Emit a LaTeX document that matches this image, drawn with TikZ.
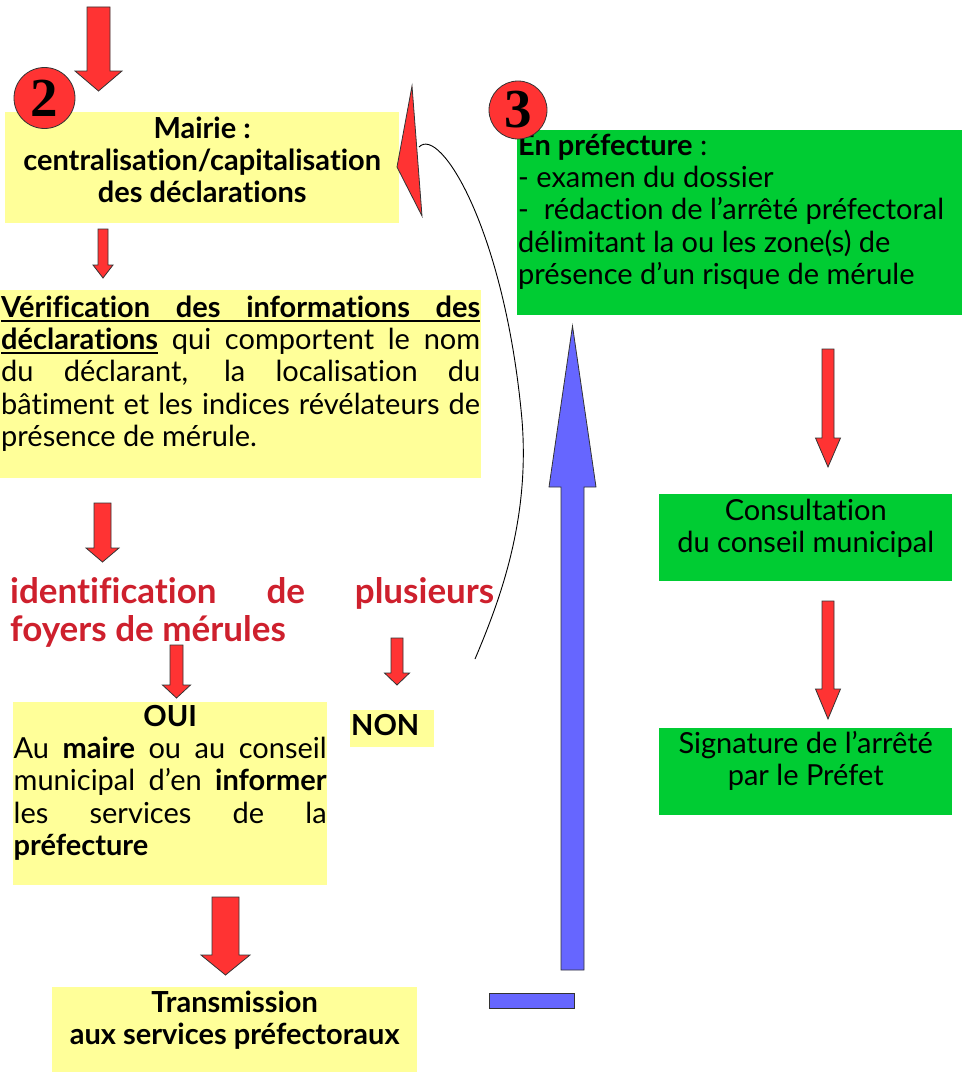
\documentclass[tikz,border=0pt]{standalone}
\usepackage{fontspec}
\setmainfont{Lato}[Ligatures={NoCommon}]
\newfontfamily\numfont{Liberation Serif}
\usetikzlibrary{positioning}
\definecolor{boxyellow}{RGB}{255,255,153}
\definecolor{boxgreen}{RGB}{0,204,51}
\definecolor{arrred}{RGB}{255,51,51}
\definecolor{arrblue}{RGB}{102,102,255}
\definecolor{headred}{RGB}{206,32,45}
\newcommand{\txtsize}{\fontsize{29}{32.4}\selectfont}
\newcommand{\jline}[2]{\makebox[#1][s]{#2}}
\newsavebox{\ulsave}
\newcommand{\ulbox}[1]{\sbox{\ulsave}{#1}%
  \rlap{\rule[-4.5pt]{\wd\ulsave}{1.8pt}}\usebox{\ulsave}}
\newcommand{\blockarr}[7][block]{%
  \filldraw[#1] (#2-#4,#3) -- (#2+#4,#3) -- (#2+#4,#5) -- (#2+#6,#5)
    -- (#2,#7) -- (#2-#6,#5) -- (#2-#4,#5) -- cycle;}

\begin{document}
\begin{tikzpicture}[x=1pt, y=-1pt,
  ybox/.style={fill=boxyellow, inner sep=0pt, anchor=north west},
  gbox/.style={fill=boxgreen, inner sep=0pt, anchor=north west},
  txt/.style={inner sep=0pt, font=\txtsize},
  btxt/.style={txt, font=\txtsize\bfseries},
  num/.style={circle, draw=black!80, line width=0.8pt, fill=arrred,
    inner sep=0pt, font=\numfont\fontsize{55}{55}\selectfont\bfseries},
  block/.style={fill=arrred, draw=black!80, line width=0.8pt},
  backline/.style={draw, line width=0.9pt}
]
\useasboundingbox (0,0) rectangle (966,1073);

% boxes
\node[ybox, minimum width=394, minimum height=111] (mairie) at (5,112) {};
\node[ybox, minimum width=481, minimum height=188] (verif) at (0,290) {};
\node[ybox, minimum width=314, minimum height=183] (oui) at (13,702) {};
\node[ybox, minimum width=84, minimum height=37] (non) at (350,710) {};
\node[ybox, minimum width=365, minimum height=85] (trans) at (52,987) {};
\node[gbox, minimum width=445, minimum height=185] (pref) at (517,130) {};
\node[gbox, minimum width=293, minimum height=87] (consult) at (659,494) {};
\node[gbox, minimum width=293, minimum height=87] (signat) at (659,728) {};

% texts
\node[btxt, align=center, below=3.3pt of mairie.north] (mairietxt)
  {\strut Mairie :\\centralisation/capitalisation\\des déclarations};
\node[txt, align=left, below right=4.3pt and 1pt of verif.north west] (veriftxt)
  {\strut\ulbox{\jline{479pt}{\textbf{Vérification des informations des}}}\\
   \jline{479pt}{\ulbox{\textbf{déclarations}} qui comportent le nom}\\
   \jline{479pt}{du déclarant, la localisation du}\\
   \jline{479pt}{bâtiment et les indices révélateurs de}\\
   présence de mérule.};
\node[txt, font=\fontsize{35}{37}\selectfont\bfseries, text=headred,
  align=left, anchor=north west] (ident) at (10,577.1)
  {\strut\jline{484pt}{identification de plusieurs}\\foyers de mérules};
\node[txt, align=center, below=1.3pt of oui.north] (ouitxt)
  {\strut\textbf{OUI}\\
   \jline{313pt}{Au \textbf{maire} ou au conseil}\\
   \jline{313pt}{municipal d’en \textbf{informer}}\\
   \jline{313pt}{les services de la}\\
   \makebox[313pt][l]{\textbf{préfecture}}};
\node[btxt, anchor=base west] (nontxt) at (351,735) {NON};
\node[btxt, align=center, below=2.3pt of trans.north] (transtxt)
  {\strut Transmission\\aux services préfectoraux};
\node[txt, align=left, below right=2.3pt and 1pt of pref.north west] (preftxt)
  {\strut\textbf{En préfecture} :\\- examen du dossier\\
   - \ rédaction de l’arrêté préfectoral\\délimitant la ou les zone(s) de\\
   présence d’un risque de mérule};
\node[txt, align=center, below=3.3pt of consult.north] (consulttxt)
  {\strut Consultation\\du conseil municipal};
\node[txt, align=center, below=2.3pt of signat.north] (signattxt)
  {\strut Signature de l’arrêté\\par le Préfet};

% block arrows
\blockarr{98.5}{7}{11.5}{71}{23.5}{91}
\blockarr{103}{229}{5}{265}{10}{278}
\blockarr{102.5}{503}{8.5}{548}{16.5}{562}
\blockarr{176.5}{645}{6.5}{685}{14}{698}
\blockarr{397}{638}{6}{673}{12.5}{685}
\blockarr{225.5}{897}{13.5}{955}{24.5}{975}
\blockarr{828}{349}{6}{438}{12.5}{467}
\blockarr{828}{601}{6}{689}{12.5}{719}
\blockarr[block, fill=arrblue]{572.5}{970}{11.5}{487}{23.5}{326}
\filldraw[block, fill=arrblue] (489,993) rectangle (574,1008);

% return from NON
\coordinate (loopstart) at (475,659);
\coordinate (loopend) at (419,147);
\draw[backline] (loopstart) .. controls (500,600) and (530,520) .. (522,420)
  .. controls (505,230) and (440,125) .. (loopend);
\filldraw[block] (412,86) -- (397,167) -- (422,216) -- cycle;

% step numbers
\node[num, minimum size=61] (n2) at (44.5,98) {2};
\node[num, minimum size=58] (n3) at (518,110) {3};

\end{tikzpicture}
\end{document}
